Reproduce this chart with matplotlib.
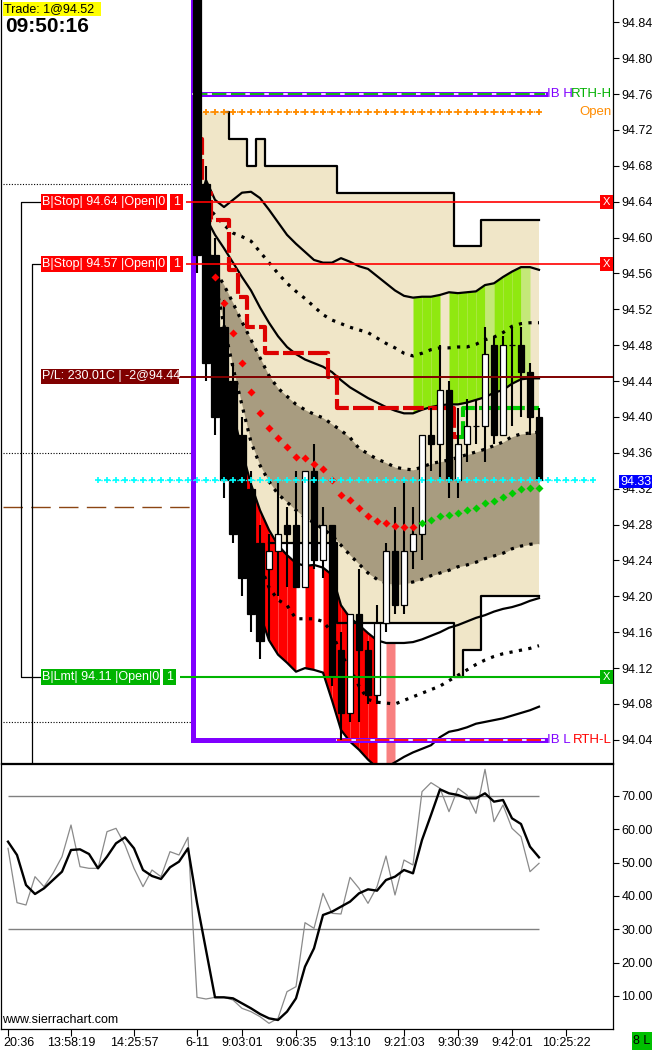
import numpy as np
import matplotlib.pyplot as plt
from matplotlib import font_manager
from matplotlib.patches import Rectangle
from matplotlib.transforms import ScaledTranslation


def pick_font(names):
    for name in names:
        try:
            font_manager.findfont(name, fallback_to_default=False)
            return name
        except ValueError:
            pass
    return "DejaVu Sans"


FONT = pick_font(["Liberation Sans Narrow", "DejaVu Sans Condensed", "Liberation Sans"])
FS = 11 if "Narrow" in FONT else 9
BOLD = pick_font(["Liberation Sans", "DejaVu Sans"])
plt.rcParams["font.family"] = [FONT, "DejaVu Sans"]
plt.rcParams["font.size"] = FS

W, H = 656, 1050

# ---------------- data (bar index 0..59, session 6-11 starts at bar 21) ----------------
x_ticks = [0, 7, 14, 21, 26, 32, 38, 44, 50, 56, 62]
x_labels = ["20:36", "13:58:19", "14:25:57", "6-11", "9:03:01", "9:06:35",
            "9:13:10", "9:21:03", "9:30:39", "9:42:01", "10:25:22"]

# candles, bars 21..59
opens = [94.95, 94.66, 94.58, 94.50, 94.44, 94.38, 94.32, 94.26, 94.23, 94.25,
         94.28, 94.28, 94.21, 94.34, 94.24, 94.28, 94.14, 94.07, 94.18, 94.14,
         94.09, 94.17, 94.25, 94.19, 94.25, 94.27, 94.38, 94.37, 94.43, 94.33,
         94.37, 94.39, 94.39, 94.48, 94.38, 94.48, 94.48, 94.45, 94.40]
highs = [94.97, 94.68, 94.60, 94.53, 94.46, 94.40, 94.34, 94.28, 94.27, 94.33,
         94.30, 94.34, 94.34, 94.37, 94.30, 94.28, 94.16, 94.18, 94.23, 94.15,
         94.19, 94.26, 94.30, 94.33, 94.30, 94.38, 94.41, 94.48, 94.44, 94.41,
         94.42, 94.42, 94.50, 94.49, 94.49, 94.50, 94.50, 94.46, 94.41]
lows = [94.56, 94.44, 94.38, 94.31, 94.26, 94.20, 94.16, 94.13, 94.15, 94.20,
        94.21, 94.21, 94.21, 94.23, 94.22, 94.10, 94.04, 94.06, 94.06, 94.08,
        94.08, 94.16, 94.18, 94.18, 94.23, 94.24, 94.34, 94.33, 94.31, 94.31,
        94.35, 94.37, 94.35, 94.37, 94.38, 94.39, 94.40, 94.38, 94.33]
closes = [94.58, 94.46, 94.40, 94.33, 94.27, 94.22, 94.18, 94.15, 94.25, 94.27,
          94.27, 94.21, 94.34, 94.24, 94.28, 94.11, 94.07, 94.18, 94.14, 94.09,
          94.17, 94.25, 94.19, 94.25, 94.27, 94.38, 94.37, 94.43, 94.33, 94.37,
          94.39, 94.39, 94.47, 94.38, 94.48, 94.48, 94.45, 94.40, 94.33]

# step channel, bars 21..59
chan_top = [94.74, 94.74, 94.74, 94.74, 94.71, 94.71, 94.68, 94.71,
            94.68, 94.68, 94.68, 94.68, 94.68, 94.68, 94.68, 94.68,
            94.65, 94.65, 94.65, 94.65, 94.65, 94.65, 94.65, 94.65, 94.65,
            94.65, 94.65, 94.65, 94.65,
            94.59, 94.59, 94.59,
            94.62, 94.62, 94.62, 94.62, 94.62, 94.62, 94.62]
chan_bot = [94.58, 94.50, 94.44, 94.38, 94.32, 94.28, 94.26, 94.26,
            94.26, 94.26, 94.26, 94.26, 94.26, 94.26, 94.26, 94.26,
            94.17, 94.17, 94.17, 94.17, 94.17, 94.17, 94.17, 94.17, 94.17,
            94.17, 94.17, 94.17, 94.17,
            94.11, 94.14, 94.14,
            94.20, 94.20, 94.20, 94.20, 94.20, 94.20, 94.20]

# upper solid band, bars 21..59
band_up2 = [94.631, 94.664, 94.642, 94.634, 94.642, 94.650, 94.651, 94.644, 94.631, 94.617,
            94.603, 94.593, 94.584, 94.575, 94.572, 94.572, 94.577, 94.573, 94.568, 94.565,
            94.557, 94.549, 94.541, 94.535, 94.533, 94.534, 94.534, 94.536, 94.539, 94.538,
            94.539, 94.540, 94.547, 94.549, 94.556, 94.562, 94.567, 94.567, 94.564]
# bands below, bars 22..59
band_up1 = [94.636, 94.625, 94.614, 94.605, 94.601, 94.596, 94.584, 94.572, 94.560, 94.549,
            94.540, 94.532, 94.523, 94.514, 94.508, 94.504, 94.500, 94.497, 94.494, 94.488,
            94.482, 94.477, 94.471, 94.468, 94.471, 94.475, 94.477, 94.477, 94.478, 94.478,
            94.481, 94.486, 94.489, 94.494, 94.501, 94.504, 94.505, 94.505]
band_mid = [94.622, 94.603, 94.588, 94.572, 94.556, 94.541, 94.522, 94.505, 94.490, 94.478,
            94.470, 94.464, 94.460, 94.456, 94.450, 94.441, 94.433, 94.427, 94.421, 94.416,
            94.411, 94.407, 94.404, 94.404, 94.408, 94.411, 94.413, 94.414, 94.414, 94.416,
            94.419, 94.422, 94.427, 94.430, 94.437, 94.442, 94.443, 94.443]
inner_up = [94.592, 94.564, 94.547, 94.527, 94.506, 94.486, 94.466, 94.446, 94.432, 94.423,
            94.414, 94.408, 94.403, 94.399, 94.392, 94.385, 94.377, 94.365, 94.359, 94.353,
            94.349, 94.344, 94.342, 94.341, 94.344, 94.348, 94.350, 94.352, 94.355, 94.358,
            94.361, 94.364, 94.368, 94.372, 94.378, 94.381, 94.382, 94.383]
inner_dn = [94.585, 94.552, 94.502, 94.455, 94.413, 94.372, 94.346, 94.328, 94.314, 94.305,
            94.296, 94.288, 94.282, 94.275, 94.268, 94.257, 94.246, 94.236, 94.226, 94.219,
            94.215, 94.213, 94.214, 94.216, 94.219, 94.223, 94.226, 94.229, 94.233, 94.235,
            94.238, 94.242, 94.245, 94.248, 94.253, 94.256, 94.258, 94.259]
band_dn1 = [94.541, 94.505, 94.455, 94.405, 94.362, 94.325, 94.296, 94.274, 94.257, 94.246,
            94.237, 94.234, 94.235, 94.232, 94.224, 94.190, 94.176, 94.168, 94.159, 94.151,
            94.148, 94.148, 94.148, 94.149, 94.152, 94.156, 94.160, 94.165, 94.168, 94.172,
            94.176, 94.179, 94.183, 94.186, 94.188, 94.191, 94.195, 94.198]
band_dn_dot = [94.525, 94.480, 94.430, 94.370, 94.320, 94.270, 94.235, 94.210, 94.196, 94.190,
               94.175, 94.175, 94.175, 94.172, 94.160, 94.135, 94.120, 94.100, 94.085, 94.082,
               94.081, 94.080, 94.084, 94.088, 94.092, 94.096, 94.100, 94.106, 94.112, 94.118,
               94.124, 94.129, 94.133, 94.136, 94.138, 94.140, 94.142, 94.145]
band_dn2 = [94.510, 94.460, 94.400, 94.330, 94.280, 94.225, 94.180, 94.151, 94.135, 94.126,
            94.116, 94.120, 94.118, 94.115, 94.084, 94.051, 94.038, 94.029, 94.018, 94.009,
            94.009, 94.015, 94.021, 94.026, 94.030, 94.034, 94.043, 94.049, 94.051, 94.054,
            94.058, 94.060, 94.062, 94.064, 94.067, 94.070, 94.073, 94.077]

# fill colours per segment (segment k spans bar k..k+1)
lower_fill = ["r", "r", "r", "r", "r", "r", "r", "r", "r", "r",      # 22..31
              None, "r", None, "r", "r", "r", "r", "r", "r",        # 32..40
              None, "p"]                                            # 41..42
upper_fill = ["g", "g", "g", None, "g", "g", "g", "g", "lg",         # 45..53
              "g", "g", "g", "lg", None]                             # 54..58

# trailing stop (red while short, green after)
stop_red = [94.71, 94.65, 94.62, 94.62, 94.564, 94.534, 94.50, 94.50,
            94.471, 94.471, 94.471, 94.471, 94.471, 94.471, 94.471, 94.445,
            94.41, 94.41, 94.41, 94.41, 94.41, 94.41, 94.41, 94.41, 94.41,
            94.41, 94.41, 94.41, 94.41, 94.378]                      # bars 21..50
stop_green = [94.378, 94.41, 94.41, 94.41, 94.41, 94.41, 94.41, 94.41, 94.41, 94.41]  # 50..59

sar_red = [94.556, 94.527, 94.494, 94.460, 94.428, 94.404, 94.388, 94.376, 94.366, 94.355,
           94.354, 94.348, 94.342, 94.330, 94.313, 94.307, 94.298, 94.290, 94.284, 94.282,
           94.278, 94.277, 94.277]                                   # bars 23..45
sar_green = [94.282, 94.285, 94.290, 94.291, 94.293, 94.296, 94.298, 94.304, 94.306, 94.311,
             94.315, 94.320, 94.321, 94.321]                         # bars 46..59

# oscillator, bars 0..59
osc_fast = [54.3, 38.0, 37.3, 45.8, 42.8, 46.8, 51.8, 61.3, 48.8, 48.3,
            48.3, 59.3, 60.3, 55.3, 48.3, 42.8, 47.8, 45.8, 53.3, 52.3,
            57.6, 9.6, 9.1, 9.6, 9.6, 8.8, 6.3, 5.3, 3.8, 1.8,
            3.3, 11.3, 12.8, 32.0, 30.3, 40.8, 34.8, 34.6, 45.6, 42.3,
            37.8, 42.8, 52.0, 40.3, 50.8, 49.3, 71.3, 74.0, 72.3, 65.3,
            72.3, 70.3, 64.8, 78.0, 62.3, 67.3, 60.3, 57.8, 47.3, 49.8]
osc_slow = [56.3, 52.3, 43.3, 40.6, 42.3, 44.8, 47.3, 53.8, 54.0, 52.6,
            48.3, 51.8, 55.8, 57.6, 54.3, 47.8, 46.0, 45.1, 48.6, 50.3,
            54.3, 38.0, 23.8, 9.6, 9.6, 9.3, 7.8, 6.3, 4.6, 3.3,
            2.8, 5.3, 9.3, 18.8, 24.3, 34.3, 35.3, 36.8, 38.3, 40.8,
            42.0, 41.6, 44.8, 45.8, 47.8, 46.8, 56.8, 64.3, 72.0, 70.8,
            70.3, 69.3, 69.3, 70.8, 68.3, 68.8, 63.3, 61.6, 54.8, 51.6]

# horizontal levels
ib_high, ib_low = 94.76, 94.04
open_px = 94.74
stop1, stop2 = 94.64, 94.57
pl_px = 94.445
lmt_px = 94.11
last_px = 94.33
prev_dotted = [94.66, 94.36, 94.06]
prev_dashed = 94.30

# ---------------- figure ----------------
fig = plt.figure(figsize=(W / 100, H / 100), dpi=100)
ax = fig.add_axes([1 / W, 1 - 763 / H, 612 / W, 763 / H])
ax2 = fig.add_axes([1 / W, 1 - 1029 / H, 612 / W, 265 / H])

XL = (-7 / 9, 605 / 9)
ax.set_xlim(*XL)
ax.set_ylim(94.0142, 94.8648)
ax2.set_xlim(*XL)
ax2.set_ylim(0.1, 79.6)

bars = np.arange(21, 60)
bx = np.arange(22, 60)

# channel / band fills
ax.fill_between(bars, chan_bot, chan_top, step="mid", color="#f0e6c8", lw=0, zorder=1)
ax.fill_between(bx, inner_dn, inner_up, color="#a89c80", lw=0, zorder=2)
seg_colors = {"r": "#ff0000", "p": "#f88080", "g": "#90e810", "lg": "#c4e878"}
for k, c in enumerate(lower_fill):
    if c is None:
        continue
    j = k  # bx index of bar 22 + k
    ax.fill_between(bx[j:j + 2], band_dn2[j:j + 2], band_dn1[j:j + 2],
                    color=seg_colors[c], lw=0, zorder=2.5)
for k, c in enumerate(upper_fill):
    if c is None:
        continue
    j = 45 + k - 22
    i = 45 + k - 21
    ax.fill_between(bx[j:j + 2], band_mid[j:j + 2], band_up2[i:i + 2],
                    color=seg_colors[c], lw=0, zorder=2.5)

# band lines
dots = (0, (1, 2))
ax.step(bars[3:], chan_top[3:], where="mid", color="black", lw=1.6, zorder=3)
ax.step(bars[8:], chan_bot[8:], where="mid", color="black", lw=1.6, zorder=3)
ax.plot(bars, band_up2, color="black", lw=1.6, zorder=3)
ax.plot(bx, band_mid, color="black", lw=1.6, zorder=3)
ax.plot(bx, band_dn1, color="black", lw=1.6, zorder=3)
ax.plot(bx, band_dn2, color="black", lw=1.6, zorder=3)
for series in (band_up1, inner_up, inner_dn, band_dn_dot):
    ax.plot(bx, series, color="black", lw=2.3, linestyle=dots, zorder=3)

# previous session reference lines
ax.hlines(prev_dotted, -0.56, 20.6, color="black", lw=0.8, linestyle=(0, (1, 1.5)), zorder=3)
ax.hlines(prev_dashed, -0.56, 20.3, color="#8b4513", lw=1.0, linestyle=(0, (14, 6)), zorder=3)

# initial balance box
ax.plot([20.6, 20.6, 59.7], [94.9, ib_low, ib_low], color="#8000ff", lw=3.6,
        solid_joinstyle="miter", zorder=3.5)
ax.plot([20.6, 59.7], [ib_high, ib_high], color="#8000ff", lw=3.6, zorder=3.5)
ax.plot([20.6, 59.7], [ib_high, ib_high], color="white", lw=1.3, zorder=3.6)
ax.plot([20.6, 59.7], [ib_high, ib_high], color="#00b000", lw=1.3,
        linestyle=(0, (8, 2.5)), zorder=3.7)
ax.plot([36.6, 59.5], [ib_low, ib_low], color="white", lw=1.3, zorder=3.6)
ax.plot([36.6, 59.5], [ib_low, ib_low], color="#ff0000", lw=1.3,
        linestyle=(0, (8, 2.5)), zorder=3.7)

# open line
ax.plot(bars, [open_px] * len(bars), color="#ff8c00", lw=1.2, linestyle=(0, (1, 1)),
        marker="+", ms=5, mew=1.3, zorder=3.5)

# candles (the opening bars are packed tightly in the original)
for x, o, h, l, c in zip(bars, opens, highs, lows, closes):
    ax.vlines(x, l, h, color="black", lw=1.5, zorder=6)
    up = c > o
    ax.bar(x, abs(c - o), bottom=min(o, c), width=0.85 if x <= 28 else 0.58,
           color="white" if up else "black", edgecolor="black", lw=0.9, zorder=6.5)

# trailing stop and stop-and-reverse dots
ax.step(np.arange(21, 51), stop_red, where="mid", color="#dd0000", lw=3.0,
        linestyle=(0, (5, 1)), zorder=5)
ax.step(np.arange(50, 60), stop_green, where="mid", color="#00cc00", lw=3.0,
        linestyle=(0, (5, 1)), zorder=5)
ax.plot(np.arange(23, 46), sar_red, "D", color="#ff0000", ms=3.6, mec="none", zorder=7)
ax.plot(np.arange(46, 60), sar_green, "D", color="#00cc00", ms=3.6, mec="none", zorder=7)

# order lines
ax.hlines([stop1, stop2], 19.8, 65.8, color="#ff0000", lw=1.2, zorder=8)
ax.hlines(pl_px, 18.9, 67.3, color="#800000", lw=1.4, zorder=8)
ax.hlines(lmt_px, 19.1, 65.8, color="#00b400", lw=1.5, zorder=8)
cyan_x = np.arange(10, 66)
ax.plot(cyan_x, [last_px] * len(cyan_x), color="#00ffff", lw=1.0, linestyle=(0, (1, 1)),
        marker="+", ms=4.5, mew=1.2, zorder=8)

# connector lines on the left
tr = ax.get_yaxis_transform()
cx1, cx2, lab_x = 20 / 612, 31 / 612, 40 / 612
ax.plot([lab_x, cx1, cx1, lab_x], [stop1, stop1, lmt_px, lmt_px], color="black",
        lw=0.9, transform=tr, zorder=8)
ax.plot([lab_x, cx2, cx2], [stop2, stop2, 94.0142], color="black", lw=0.9,
        transform=tr, zorder=8, clip_on=False)

# axes styling
for a in (ax, ax2):
    for s in a.spines.values():
        s.set_color("black")
        s.set_linewidth(0.9)
ax.spines["top"].set_visible(False)
ax.yaxis.tick_right()
ax.set_yticks(np.round(np.arange(94.04, 94.85, 0.04), 2))
ax.yaxis.set_major_formatter(plt.FormatStrFormatter("%.2f"))
ax.tick_params(axis="y", direction="out", length=4, width=0.8, pad=2, labelsize=FS)
ax.tick_params(axis="x", bottom=False, labelbottom=False)

ax2.yaxis.tick_right()
ax2.set_yticks([10, 20, 30, 40, 50, 60, 70])
ax2.yaxis.set_major_formatter(plt.FormatStrFormatter("%.2f"))
ax2.tick_params(axis="y", direction="out", length=4, width=0.8, pad=2, labelsize=FS)
ax2.set_xticks(x_ticks)
ax2.set_xticklabels(x_labels)
ax2.tick_params(axis="x", direction="out", length=5, width=0.8, pad=1, labelsize=FS)
first = ax2.get_xticklabels()[0]
first.set_ha("left")
first.set_transform(first.get_transform() + ScaledTranslation(-5 / 100, 0, fig.dpi_scale_trans))

# oscillator
ax2.hlines([70, 30], 0, 59, color="#808080", lw=1.0)
ax2.plot(np.arange(60), osc_fast, color="#8a8a8a", lw=0.9)
ax2.plot(np.arange(60), osc_slow, color="black", lw=1.7)
ax2.text(0.002, 0.012, "www.sierrachart.com", transform=ax2.transAxes, fontsize=FS,
         va="bottom", ha="left")


# ---------------- labels drawn in pixel space ----------------
def box(x0, x1, y0, y1, fc, text="", tc="white", ha="left", z=10, **kw):
    fig.add_artist(Rectangle((x0 / W, 1 - y1 / H), (x1 - x0) / W, (y1 - y0) / H,
                             transform=fig.transFigure, fc=fc, ec="none", zorder=z))
    if text:
        tx = x0 + 1.5 if ha == "left" else ((x0 + x1) / 2 if ha == "center" else x1 - 1)
        fig.text(tx / W, 1 - (y0 + y1) / 2 / H, text, color=tc, ha=ha, va="center",
                 fontsize=kw.pop("fs", FS), zorder=z + 1, **kw)


box(3, 101, 2, 16, "#ffff00", "Trade: 1@94.52", tc="black")
fig.text(5 / W, 1 - 27 / H, "09:50:16", fontsize=15, fontweight="bold", family=BOLD,
         va="center", ha="left")

box(41, 167, 194, 210, "#ff0000", "B|Stop| 94.64 |Open|0")
box(170, 183, 194, 210, "#ff0000", "1", ha="center")
box(41, 167, 256, 272, "#ff0000", "B|Stop| 94.57 |Open|0")
box(170, 183, 256, 272, "#ff0000", "1", ha="center")
box(41, 179, 369, 384, "#800000", "P/L: 230.01C | -2@94.44")
box(41, 160, 669, 685, "#00b400", "B|Lmt| 94.11 |Open|0")
box(163, 176, 669, 685, "#00b400", "1", ha="center")
box(600, 613, 195, 209, "#ff0000", "X", ha="center", fs=FS - 1)
box(600, 613, 257, 271, "#ff0000", "X", ha="center", fs=FS - 1)
box(600, 613, 670, 684, "#00b400", "X", ha="center", fs=FS - 1)
box(619, 652, 475, 488, "#0000ff", "94.33")
box(632, 652, 1032, 1050, "#00c000", "8 L", tc="black", ha="center")

LFS = FS + 0.5
fig.text(547 / W, 1 - 94 / H, "IB H", color="#8000ff", va="center", ha="left",
         fontsize=LFS, zorder=12)
fig.text(612 / W, 1 - 94 / H, "RTH-H", color="#00b000", va="center", ha="right",
         fontsize=LFS, zorder=13)
fig.text(612 / W, 1 - 112 / H, "Open", color="#ff8c00", va="center", ha="right",
         fontsize=LFS, zorder=12)
fig.text(547 / W, 1 - 740 / H, "IB L", color="#8000ff", va="center", ha="left",
         fontsize=LFS, zorder=12)
fig.text(612 / W, 1 - 740 / H, "RTH-L", color="#ff0000", va="center", ha="right",
         fontsize=LFS, zorder=13)

fig.savefig("out.png", dpi=100)
